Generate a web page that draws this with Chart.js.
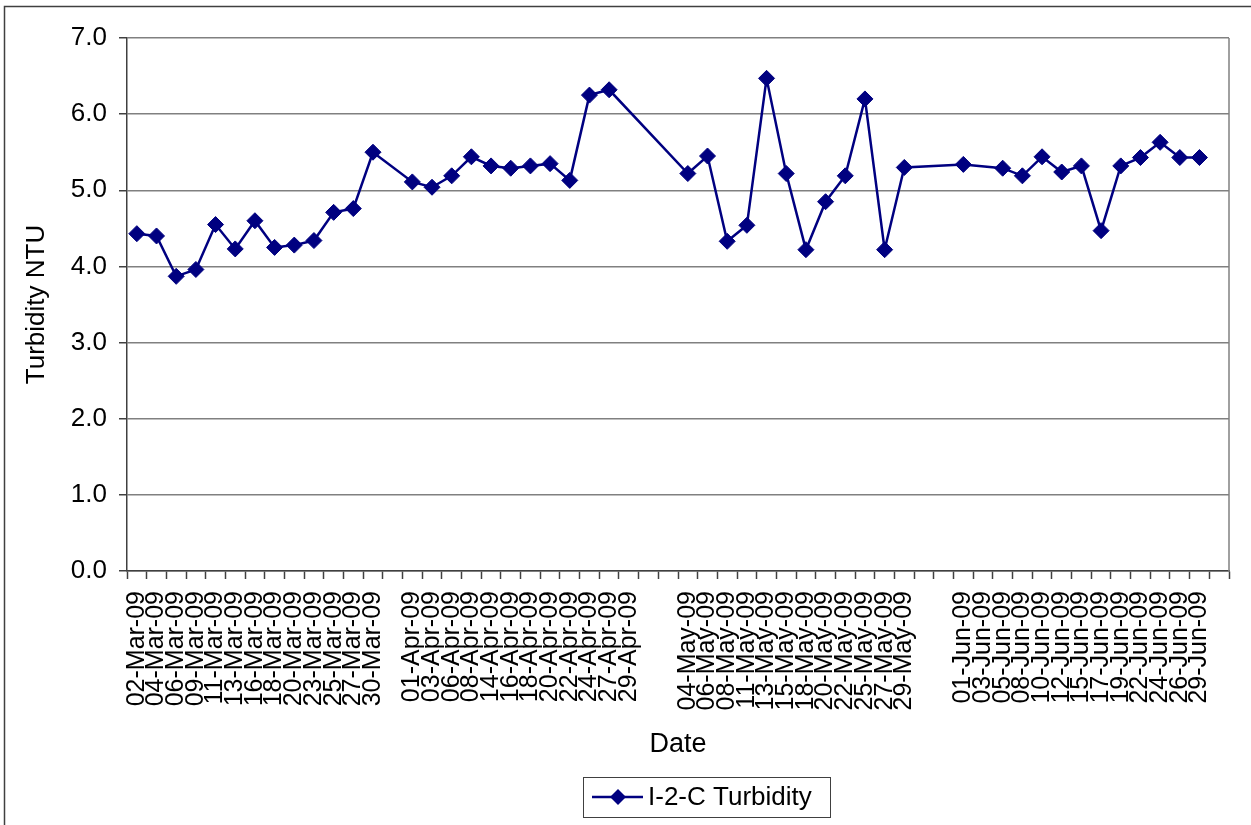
<!DOCTYPE html>
<html>
<head>
<meta charset="utf-8">
<script src="https://cdn.jsdelivr.net/npm/chart.js@4.4.0/dist/chart.umd.min.js"></script>
<style>
  html, body { margin: 0; padding: 0; background: #fff; }
  canvas { display: block; }
</style>
</head>
<body>
<canvas id="grafico" width="1251" height="825"></canvas>
<script>
// categories (blank entries are empty slots on the axis)
const dates = [
  "02-Mar-09", "04-Mar-09", "06-Mar-09", "09-Mar-09", "11-Mar-09", "13-Mar-09", "16-Mar-09",
  "18-Mar-09", "20-Mar-09", "23-Mar-09", "25-Mar-09", "27-Mar-09", "30-Mar-09",
  "",
  "01-Apr-09", "03-Apr-09", "06-Apr-09", "08-Apr-09", "14-Apr-09", "16-Apr-09",
  "18-Apr-09", "20-Apr-09", "22-Apr-09", "24-Apr-09", "27-Apr-09", "29-Apr-09",
  "", "",
  "04-May-09", "06-May-09", "08-May-09", "11-May-09", "13-May-09", "15-May-09",
  "18-May-09", "20-May-09", "22-May-09", "25-May-09", "27-May-09", "29-May-09",
  "", "",
  "01-Jun-09", "03-Jun-09", "05-Jun-09", "08-Jun-09", "10-Jun-09", "12-Jun-09", "15-Jun-09",
  "17-Jun-09", "19-Jun-09", "22-Jun-09", "24-Jun-09", "26-Jun-09", "29-Jun-09",
  ""
];

// turbidity (NTU), null = no reading
const turbidity = [
  4.43, 4.40, 3.87, 3.96, 4.55, 4.23, 4.60, 4.25, 4.28, 4.34, 4.71, 4.76, 5.50,
  null,
  5.11, 5.04, 5.19, 5.44, 5.32, 5.29, 5.32, 5.35, 5.13, 6.25, 6.32, null,
  null, null,
  5.22, 5.45, 4.33, 4.54, 6.47, 5.22, 4.22, 4.85, 5.19, 6.20, 4.22, 5.30,
  null, null,
  5.34, null, 5.29, 5.19, 5.44, 5.24, 5.32, 4.47, 5.32, 5.43, 5.63, 5.43, 5.43,
  null
];

const seriesName = "I-2-C Turbidity";
const yMin = 0, yMax = 7, yStep = 1;

const FONT = "'Liberation Sans', Arial, sans-serif";
const navy = "#000080";
const dark = "#404040";

// white background, right border of the plot, outer frame and boxed legend
const extras = {
  id: "extras",
  beforeDraw(chart) {
    const ctx = chart.ctx;
    ctx.save();
    ctx.fillStyle = "#fff";
    ctx.fillRect(0, 0, chart.width, chart.height);
    ctx.restore();
  },
  beforeDatasetsDraw(chart) {
    const { ctx, chartArea } = chart;
    ctx.save();
    ctx.strokeStyle = "#808080";
    ctx.lineWidth = 1.5;
    ctx.beginPath();
    ctx.moveTo(chartArea.right, chartArea.top);
    ctx.lineTo(chartArea.right, chartArea.bottom);
    ctx.stroke();
    ctx.restore();
  },
  afterDraw(chart) {
    const ctx = chart.ctx;
    const ds = chart.data.datasets[0];
    ctx.save();
    // outer frame
    ctx.strokeStyle = dark;
    ctx.lineWidth = 1.5;
    ctx.beginPath();
    ctx.moveTo(4.5, chart.height + 5);
    ctx.lineTo(4.5, 6.5);
    ctx.lineTo(chart.width + 5, 6.5);
    ctx.stroke();

    // legend
    const bx = 583, by = 777, bh = 40, cy = by + bh / 2;
    ctx.font = "26px " + FONT;
    const tw = ctx.measureText(ds.label).width;
    const bw = Math.max(247, 65 + tw + 12);
    ctx.fillStyle = "#fff";
    ctx.fillRect(bx, by, bw, bh);
    ctx.strokeStyle = dark;
    ctx.lineWidth = 1;
    ctx.strokeRect(bx + 0.5, by + 0.5, bw, bh);

    ctx.strokeStyle = ds.borderColor;
    ctx.lineWidth = ds.borderWidth;
    ctx.beginPath();
    ctx.moveTo(bx + 9, cy);
    ctx.lineTo(bx + 60, cy);
    ctx.stroke();
    const r = ds.pointRadius;
    const mx = bx + 35;
    ctx.fillStyle = ds.pointBackgroundColor;
    ctx.beginPath();
    ctx.moveTo(mx, cy - r);
    ctx.lineTo(mx + r, cy);
    ctx.lineTo(mx, cy + r);
    ctx.lineTo(mx - r, cy);
    ctx.closePath();
    ctx.fill();

    ctx.fillStyle = "#000";
    ctx.textBaseline = "middle";
    ctx.textAlign = "left";
    ctx.fillText(ds.label, bx + 65, cy + 1);
    ctx.restore();
  }
};

const ctx = document.getElementById("grafico").getContext("2d");
new Chart(ctx, {
  type: "line",
  data: {
    labels: dates,
    datasets: [{
      label: seriesName,
      data: turbidity,
      borderColor: navy,
      backgroundColor: navy,
      borderWidth: 2.5,
      pointStyle: "rectRot",
      pointRadius: 8,
      pointBackgroundColor: navy,
      pointBorderColor: navy,
      pointBorderWidth: 1,
      spanGaps: true,
      tension: 0,
      fill: false
    }]
  },
  options: {
    responsive: false,
    animation: false,
    devicePixelRatio: 1,
    layout: { padding: { left: 21, top: 38, right: 22, bottom: 64 } },
    plugins: {
      legend: { display: false },
      tooltip: { enabled: false }
    },
    scales: {
      x: {
        type: "category",
        offset: true,
        afterFit(scale) {
          scale.height = 190;
          scale.paddingLeft = 0;
          scale.paddingRight = 0;
        },
        grid: {
          offset: true,
          drawOnChartArea: false,
          drawTicks: true,
          tickLength: 8,
          tickColor: dark,
          tickWidth: 1.5
        },
        border: { color: dark, width: 1.5 },
        ticks: {
          autoSkip: false,
          minRotation: 90,
          maxRotation: 90,
          padding: 12,
          color: "#000",
          font: { family: FONT, size: 25 }
        },
        title: {
          display: true,
          text: "Date",
          color: "#000",
          padding: 0,
          font: { family: FONT, size: 27 }
        }
      },
      y: {
        min: yMin,
        max: yMax,
        afterFit(scale) {
          scale.width = 106;
          scale.paddingTop = 0;
          scale.paddingBottom = 0;
        },
        grid: {
          color: "#808080",
          lineWidth: 1.5,
          drawTicks: true,
          tickLength: 8,
          tickColor: dark,
          tickWidth: 1.5
        },
        border: { color: dark, width: 1.5 },
        ticks: {
          stepSize: yStep,
          padding: 12,
          color: "#000",
          font: { family: FONT, size: 26 },
          callback: (v) => Number(v).toFixed(1)
        },
        title: {
          display: true,
          text: "Turbidity NTU",
          color: "#000",
          padding: 0,
          font: { family: FONT, size: 26 }
        }
      }
    }
  },
  plugins: [extras]
});
</script>
</body>
</html>
